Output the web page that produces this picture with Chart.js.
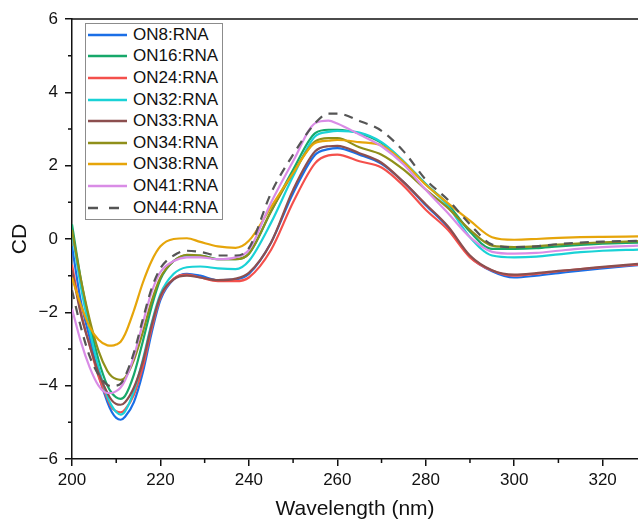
<!DOCTYPE html>
<html>
<head>
<meta charset="utf-8">
<script src="https://cdn.jsdelivr.net/npm/chart.js@4.4.0/dist/chart.umd.min.js"></script>
<style>
  html,body{margin:0;padding:0;background:#fff;}
  #wrap{position:relative;width:638px;height:522px;}
  #legend{position:absolute;left:85px;top:23px;width:138px;height:197px;border:1px solid #8c8c8c;background:#fff;
    font:17px "Liberation Sans",Arial,sans-serif;color:#111;box-sizing:border-box;padding-top:0px;}
  .li{height:21.6px;display:flex;align-items:center;white-space:nowrap;}
  .li svg{margin-left:2px;margin-right:6px;}
</style>
</head>
<body>
<div id="wrap">
  <canvas id="c" width="638" height="522"></canvas>
  <div id="legend"></div>
</div>
<script>
// CD spectra of ON*:RNA duplexes
const WAVELENGTH = [200,202,204,206,208,209,210,211,212,214,216,218,220,223,226,229,233,237,240,245,250,255,258,260,265,270,275,280,285,290,295,300,305,310,315,320,328];

const ON8  = [-0.2,-1.7,-2.7,-3.7,-4.45,-4.72,-4.88,-4.93,-4.85,-4.45,-3.65,-2.56,-1.66,-1.1,-0.95,-1.0,-1.12,-1.1,-0.95,-0.1,1.25,2.3,2.45,2.48,2.3,2.05,1.55,0.92,0.32,-0.48,-0.88,-1.05,-1.0,-0.93,-0.86,-0.8,-0.71];
const ON16 = [0.4,-1.1,-2.3,-3.3,-4.0,-4.2,-4.32,-4.36,-4.28,-3.7,-2.8,-1.85,-1.1,-0.6,-0.45,-0.45,-0.55,-0.55,-0.4,0.75,1.89,2.89,2.98,2.98,2.88,2.62,2.1,1.5,0.95,0.2,-0.27,-0.27,-0.25,-0.2,-0.16,-0.13,-0.1];
const ON24 = [-0.7,-2.0,-2.9,-3.75,-4.35,-4.6,-4.7,-4.73,-4.65,-4.25,-3.5,-2.45,-1.6,-1.08,-0.97,-1.05,-1.15,-1.15,-1.05,-0.3,1.0,2.07,2.28,2.3,2.12,1.95,1.45,0.8,0.25,-0.5,-0.86,-1.0,-0.95,-0.88,-0.82,-0.77,-0.7];
const ON32 = [0.2,-1.3,-2.5,-3.5,-4.3,-4.55,-4.72,-4.79,-4.7,-4.15,-3.3,-2.3,-1.5,-0.95,-0.77,-0.75,-0.8,-0.82,-0.6,0.44,1.71,2.8,2.92,2.95,2.9,2.64,2.12,1.5,0.9,0.05,-0.45,-0.5,-0.48,-0.42,-0.36,-0.32,-0.29];
const ON33 = [-0.85,-2.05,-2.9,-3.65,-4.2,-4.4,-4.5,-4.52,-4.45,-4.05,-3.35,-2.35,-1.55,-1.1,-1.0,-1.05,-1.12,-1.08,-0.92,-0.1,1.34,2.39,2.53,2.54,2.34,2.08,1.55,0.95,0.35,-0.45,-0.85,-0.97,-0.93,-0.87,-0.82,-0.76,-0.68];
const ON34 = [0.25,-1.1,-2.2,-3.05,-3.6,-3.75,-3.82,-3.84,-3.78,-3.3,-2.55,-1.7,-1.05,-0.6,-0.43,-0.45,-0.55,-0.55,-0.4,0.75,1.8,2.66,2.75,2.75,2.5,2.3,1.89,1.35,0.85,0.25,-0.18,-0.22,-0.2,-0.15,-0.12,-0.09,-0.06];
const ON38 = [-1.05,-1.8,-2.4,-2.75,-2.9,-2.91,-2.88,-2.8,-2.6,-1.95,-1.2,-0.6,-0.2,0.0,0.02,-0.08,-0.2,-0.24,-0.05,0.87,1.8,2.62,2.68,2.7,2.64,2.55,2.1,1.48,0.98,0.5,0.05,-0.02,0.0,0.03,0.05,0.06,0.07];
const ON41 = [-1.9,-2.8,-3.5,-4.0,-4.2,-4.2,-4.15,-4.05,-3.85,-3.2,-2.3,-1.45,-0.9,-0.6,-0.5,-0.5,-0.55,-0.5,-0.3,0.99,2.12,3.16,3.23,3.15,2.85,2.53,2.03,1.34,0.71,0.05,-0.35,-0.4,-0.38,-0.32,-0.26,-0.22,-0.18];
const ON44 = [-1.4,-2.4,-3.2,-3.7,-3.98,-4.02,-4.0,-3.95,-3.75,-3.1,-2.2,-1.35,-0.8,-0.45,-0.32,-0.35,-0.45,-0.45,-0.25,1.25,2.3,3.16,3.42,3.42,3.22,2.95,2.39,1.62,1.07,0.4,-0.15,-0.22,-0.2,-0.14,-0.1,-0.07,-0.05];

const LABELS = ["ON8:RNA","ON16:RNA","ON24:RNA","ON32:RNA","ON33:RNA","ON34:RNA","ON38:RNA","ON41:RNA","ON44:RNA"];
const SERIES = [ON8,ON16,ON24,ON32,ON33,ON34,ON38,ON41,ON44];
const COLORS = ["#1a6ee6","#17a86a","#f4504c","#1ad2d6","#8c4f4f","#8f8f1a","#e6a50a","#d98ce6","#555555"];
const DASHES = [[],[],[],[],[],[],[],[],[9,7]];

const X_MINOR = [210,230,250,270,290,310];
const Y_MINOR = [-5,-3,-1,1,3,5];

Chart.defaults.font.family = '"Liberation Sans", Arial, sans-serif';
Chart.defaults.color = '#111';

const frame = {
  id: 'frame',
  afterDraw(chart){
    const {ctx, chartArea:a, scales:{x,y}} = chart;
    ctx.save();
    ctx.strokeStyle = '#111';
    ctx.lineWidth = 1.5;
    ctx.beginPath();
    ctx.moveTo(a.left, a.top); ctx.lineTo(a.right, a.top);
    X_MINOR.forEach(v=>{ const p = x.getPixelForValue(v); ctx.moveTo(p, a.bottom); ctx.lineTo(p, a.bottom+4); });
    Y_MINOR.forEach(v=>{ const p = y.getPixelForValue(v); ctx.moveTo(a.left, p); ctx.lineTo(a.left-4, p); });
    ctx.stroke();
    ctx.restore();
  }
};

const minus = v => String(v).replace('-', '\u2212');

new Chart(document.getElementById('c').getContext('2d'), {
  type: 'line',
  data: {
    datasets: SERIES.map((s,i)=>({
      label: LABELS[i],
      data: WAVELENGTH.map((w,j)=>({x:w, y:s[j]})),
      borderColor: COLORS[i],
      borderWidth: 2.2,
      borderDash: DASHES[i],
      pointRadius: 0,
      cubicInterpolationMode: 'monotone',
      fill: false,
      order: SERIES.length - i
    }))
  },
  options: {
    responsive: false,
    animation: false,
    layout: { padding: { top: 19, left: 0, right: 0, bottom: 0 } },
    plugins: { legend: { display:false }, tooltip: { enabled:false } },
    scales: {
      x: {
        type: 'linear', min: 200, max: 328,
        afterFit: s => { s.height = 63; },
        grid: { drawOnChartArea:false, tickLength:7, color:'#111', lineWidth:1.5 },
        border: { color:'#111', width:1.5 },
        ticks: { stepSize:20, includeBounds:false, padding:4, font:{size:17}, color:'#111', maxRotation:0 },
        title: { display:true, text:'Wavelength (nm)', font:{size:21}, color:'#111', padding:{top:0,bottom:0} }
      },
      y: {
        min: -6, max: 6,
        afterFit: s => { s.width = 72; },
        grid: { drawOnChartArea:false, tickLength:7, color:'#111', lineWidth:1.5 },
        border: { color:'#111', width:1.5 },
        ticks: { stepSize:2, padding:7, font:{size:17}, color:'#111', callback: minus },
        title: { display:true, text:'CD', font:{size:21}, color:'#111', padding:{top:8,bottom:0} }
      }
    }
  },
  plugins: [frame]
});

document.getElementById('legend').innerHTML = LABELS.map((l,i)=>{
  const dash = DASHES[i].length ? 'stroke-dasharray="10,11"' : '';
  return `<div class="li"><svg width="39" height="4"><line x1="0" y1="2" x2="39" y2="2" stroke="${COLORS[i]}" stroke-width="2.5" ${dash}/></svg>${l}</div>`;
}).join('');
</script>
</body>
</html>
